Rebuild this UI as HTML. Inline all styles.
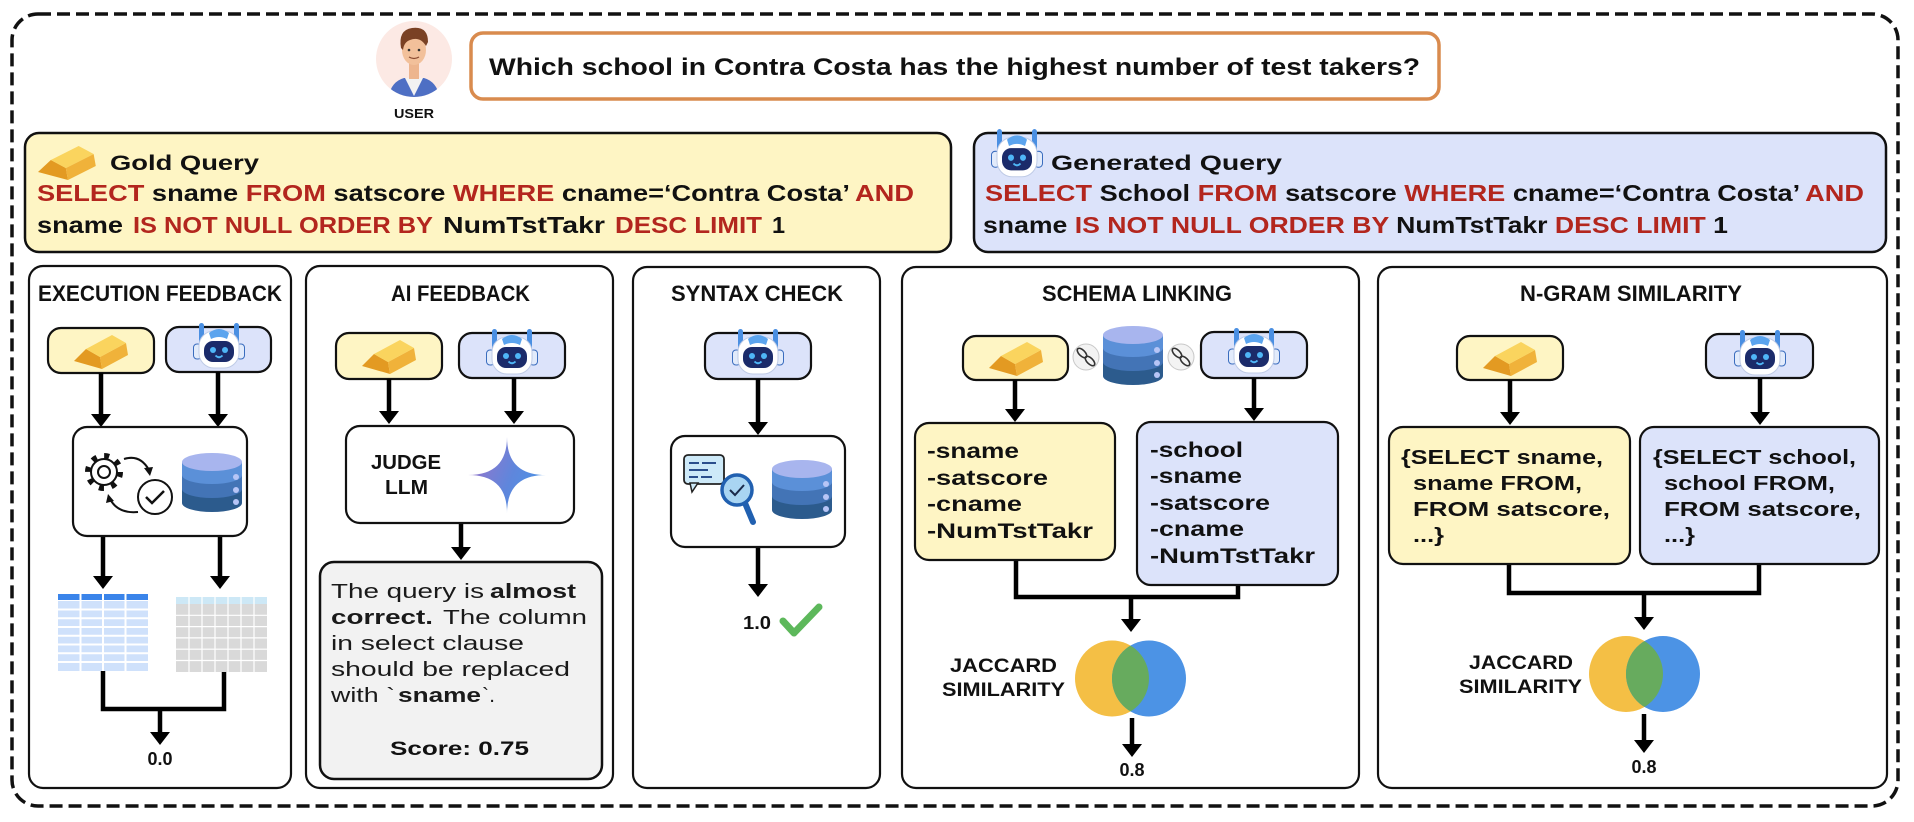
<!DOCTYPE html>
<html><head><meta charset="utf-8"><style>
html,body{margin:0;padding:0;background:#fff;}
svg{display:block;}
text{font-family:"Liberation Sans",Arial,sans-serif;}
</style></head><body>
<svg width="1914" height="822" viewBox="0 0 1914 822" xmlns="http://www.w3.org/2000/svg">
<defs>
  <g id="robot">
    <rect x="8" y="1" width="5" height="22" rx="2.5" fill="#4A8FE2"/>
    <rect x="43" y="1" width="5" height="22" rx="2.5" fill="#4A8FE2"/>
    <rect x="2.5" y="22" width="8" height="15" rx="3.5" fill="#E2EBFB" stroke="#3A6DBE" stroke-width="1"/>
    <rect x="45.5" y="22" width="8" height="15" rx="3.5" fill="#E2EBFB" stroke="#3A6DBE" stroke-width="1"/>
    <rect x="8" y="9" width="40" height="37" rx="15" fill="#ffffff" stroke="#BFCBE6" stroke-width="1"/>
    <path d="M18,11 Q28,3 38,11 L36,17 Q28,13 20,17 Z" fill="#5BA4EE"/>
    <rect x="13" y="19" width="30" height="21" rx="9" fill="#1B2B6A"/>
    <circle cx="22" cy="28" r="3" fill="#4FB6F7"/>
    <circle cx="34" cy="28" r="3" fill="#4FB6F7"/>
    <path d="M24.5,33.5 Q28,37 31.5,33.5" stroke="#4FB6F7" stroke-width="1.8" fill="none"/>
  </g>
  <g id="gold">
    <polygon points="0,28 12,16 26,24 28,36" fill="#E39A22"/>
    <polygon points="26,24 52,10 54,22 28,36" fill="#F0B23A"/>
    <polygon points="12,16 38,2 52,10 26,24" fill="#FAD45E"/>
  </g>
  <g id="db">
    <path d="M0,9 V50 A30,9 0 0 0 60,50 V9 Z" fill="#2C5B8D"/>
    <path d="M0,9 V36 A30,9 0 0 0 60,36 V9 Z" fill="#4374B6"/>
    <path d="M0,9 V22 A30,9 0 0 0 60,22 V9 Z" fill="#5B90D8"/>
    <ellipse cx="30" cy="9" rx="30" ry="9" fill="#A8B5EE"/>
    <circle cx="54" cy="24" r="3" fill="#B7C5F6"/>
    <circle cx="54" cy="37" r="3" fill="#B7C5F6"/>
    <circle cx="54" cy="49" r="3" fill="#B7C5F6"/>
  </g>
  <linearGradient id="gem" x1="0" y1="0.3" x2="1" y2="0.7">
    <stop offset="0" stop-color="#9A74C9"/>
    <stop offset="0.55" stop-color="#5F86DC"/>
    <stop offset="1" stop-color="#4A95E6"/>
  </linearGradient>
  <clipPath id="avclip"><circle cx="414" cy="59" r="38"/></clipPath>
  <clipPath id="v4"><ellipse cx="1112" cy="678.5" rx="37" ry="38"/></clipPath>
  <clipPath id="v5"><ellipse cx="1626" cy="674" rx="37" ry="38"/></clipPath>
</defs>

<!-- outer dashed -->
<rect x="12" y="14" width="1886" height="792" rx="26" fill="none" stroke="#111" stroke-width="3.5" stroke-dasharray="13 6"/>

<!-- user avatar -->
<circle cx="414" cy="59" r="38" fill="#FCE9E4"/>
<g clip-path="url(#avclip)">
  <path d="M388,100 Q390,82 404,78 L424,78 Q438,82 440,100 Z" fill="#4E6FC4"/>
  <path d="M405,78 L414,96 L423,78 Z" fill="#F2F2F2"/>
  <rect x="409" y="62" width="10" height="17" fill="#EDB58E"/>
  <ellipse cx="414" cy="50" rx="12" ry="15" fill="#F2C09A"/>
  <path d="M401,48 Q398,30 412,28 Q428,26 428,42 L426,46 Q420,36 410,40 Q404,42 403,50 Z" fill="#7A4124"/>
  <circle cx="409" cy="50" r="1.3" fill="#333"/>
  <circle cx="419" cy="50" r="1.3" fill="#333"/>
  <path d="M409,57 Q414,60 419,57" stroke="#8a4a30" stroke-width="1.2" fill="none"/>
</g>
<text x="414" y="118" font-size="13" font-weight="bold" text-anchor="middle" textLength="40" lengthAdjust="spacingAndGlyphs" fill="#111">USER</text>

<!-- question -->
<rect x="471" y="33" width="968" height="66" rx="12" fill="#fff" stroke="#D98B4E" stroke-width="3.5"/>
<text x="489" y="75" font-size="24" font-weight="bold" textLength="931" lengthAdjust="spacingAndGlyphs" fill="#111">Which school in Contra Costa has the highest number of test takers?</text>

<!-- gold query box -->
<rect x="25" y="133" width="926" height="119" rx="14" fill="#FEF5C4" stroke="#111" stroke-width="2.5"/>
<use href="#gold" transform="translate(38,144) scale(1.07,1)"/>
<text x="110" y="170" font-size="21" font-weight="bold" textLength="149" lengthAdjust="spacingAndGlyphs" fill="#111">Gold Query</text>
<text x="37" y="201" font-size="23.5" font-weight="bold" textLength="877" lengthAdjust="spacingAndGlyphs" fill="#111"><tspan fill="#B3261E">SELECT</tspan> sname <tspan fill="#B3261E">FROM</tspan> satscore <tspan fill="#B3261E">WHERE</tspan> cname=‘Contra Costa’ <tspan fill="#B3261E">AND</tspan></text>
<text x="37" y="233" font-size="23.5" font-weight="bold" textLength="86" lengthAdjust="spacingAndGlyphs" fill="#111">sname</text>
<text x="133" y="233" font-size="23.5" font-weight="bold" textLength="300" lengthAdjust="spacingAndGlyphs" fill="#B3261E">IS NOT NULL ORDER BY</text>
<text x="443" y="233" font-size="23.5" font-weight="bold" textLength="162" lengthAdjust="spacingAndGlyphs" fill="#111">NumTstTakr</text>
<text x="615" y="233" font-size="23.5" font-weight="bold" textLength="147" lengthAdjust="spacingAndGlyphs" fill="#B3261E">DESC LIMIT</text>
<text x="772" y="233" font-size="23.5" font-weight="bold" fill="#111">1</text>

<!-- generated query box -->
<rect x="974" y="133" width="912" height="119" rx="14" fill="#DCE3FA" stroke="#111" stroke-width="2.5"/>
<use href="#robot" transform="translate(989,128) scale(1,1.06)"/>
<text x="1051" y="170" font-size="21" font-weight="bold" textLength="231" lengthAdjust="spacingAndGlyphs" fill="#111">Generated Query</text>
<text x="985" y="201" font-size="23.5" font-weight="bold" textLength="879" lengthAdjust="spacingAndGlyphs" fill="#111"><tspan fill="#B3261E">SELECT</tspan> School <tspan fill="#B3261E">FROM</tspan> satscore <tspan fill="#B3261E">WHERE</tspan> cname=‘Contra Costa’ <tspan fill="#B3261E">AND</tspan></text>
<text x="983" y="233" font-size="23.5" font-weight="bold" textLength="745" lengthAdjust="spacingAndGlyphs" fill="#111">sname <tspan fill="#B3261E">IS NOT NULL ORDER BY</tspan> NumTstTakr <tspan fill="#B3261E">DESC LIMIT</tspan> 1</text>

<!-- panels -->
<g fill="#fff" stroke="#111" stroke-width="2.2">
  <rect x="29" y="266" width="262" height="522" rx="14"/>
  <rect x="306" y="266" width="307" height="522" rx="14"/>
  <rect x="633" y="267" width="247" height="521" rx="14"/>
  <rect x="902" y="267" width="457" height="521" rx="14"/>
  <rect x="1378" y="267" width="509" height="521" rx="14"/>
</g>
<g font-size="22" font-weight="bold" fill="#111">
  <text x="38" y="301" textLength="244" lengthAdjust="spacingAndGlyphs">EXECUTION FEEDBACK</text>
  <text x="391" y="301" textLength="139" lengthAdjust="spacingAndGlyphs">AI FEEDBACK</text>
  <text x="671" y="301" textLength="172" lengthAdjust="spacingAndGlyphs">SYNTAX CHECK</text>
  <text x="1042" y="301" textLength="190" lengthAdjust="spacingAndGlyphs">SCHEMA LINKING</text>
  <text x="1520" y="301" textLength="222" lengthAdjust="spacingAndGlyphs">N-GRAM SIMILARITY</text>
</g>

<!-- pills -->
<g stroke="#111" stroke-width="2.2">
  <rect x="48" y="328" width="106" height="45" rx="13" fill="#FEF5C4"/>
  <rect x="166" y="327" width="105" height="45" rx="13" fill="#DCE3FA"/>
  <rect x="336" y="333" width="106" height="46" rx="13" fill="#FEF5C4"/>
  <rect x="459" y="333" width="106" height="45" rx="13" fill="#DCE3FA"/>
  <rect x="705" y="333" width="106" height="46" rx="13" fill="#DCE3FA"/>
  <rect x="963" y="336" width="105" height="44" rx="13" fill="#FEF5C4"/>
  <rect x="1201" y="332" width="106" height="46" rx="13" fill="#DCE3FA"/>
  <rect x="1457" y="336" width="106" height="44" rx="13" fill="#FEF5C4"/>
  <rect x="1706" y="334" width="107" height="44" rx="13" fill="#DCE3FA"/>
</g>
<use href="#gold" transform="translate(74,333)"/>
<use href="#robot" transform="translate(191,322)"/>
<use href="#gold" transform="translate(362,338)"/>
<use href="#robot" transform="translate(484,328)"/>
<use href="#robot" transform="translate(730,328)"/>
<use href="#gold" transform="translate(989,340)"/>
<use href="#robot" transform="translate(1226,327)"/>
<use href="#gold" transform="translate(1483,340)"/>
<use href="#robot" transform="translate(1732,329)"/>

<!-- arrows -->
<g stroke="#000" stroke-width="4.5" fill="none">
  <line x1="101" y1="373" x2="101" y2="417"/>
  <line x1="218" y1="372" x2="218" y2="417"/>
  <line x1="103" y1="536" x2="103" y2="579"/>
  <line x1="220" y1="536" x2="220" y2="579"/>
  <line x1="160" y1="709" x2="160" y2="735"/>
  <line x1="389" y1="379" x2="389" y2="414"/>
  <line x1="514" y1="378" x2="514" y2="414"/>
  <line x1="461" y1="523" x2="461" y2="550"/>
  <line x1="758" y1="379" x2="758" y2="425"/>
  <line x1="758" y1="547" x2="758" y2="587"/>
  <line x1="1015" y1="380" x2="1015" y2="412"/>
  <line x1="1254" y1="378" x2="1254" y2="411"/>
  <line x1="1131" y1="597" x2="1131" y2="622"/>
  <line x1="1132" y1="718" x2="1132" y2="747"/>
  <line x1="1510" y1="380" x2="1510" y2="415"/>
  <line x1="1760" y1="378" x2="1760" y2="415"/>
  <line x1="1644" y1="593" x2="1644" y2="620"/>
  <line x1="1644" y1="714" x2="1644" y2="743"/>
  <path d="M103,671 V709 H224 V672"/>
  <path d="M1016,560 V597 H1238 V585"/>
  <path d="M1509,564 V593 H1759 V564"/>
</g>
<g fill="#000">
  <polygon points="91,414 111,414 101,427"/>
  <polygon points="208,414 228,414 218,427"/>
  <polygon points="93,576 113,576 103,589"/>
  <polygon points="210,576 230,576 220,589"/>
  <polygon points="150,732 170,732 160,745"/>
  <polygon points="379,411 399,411 389,424"/>
  <polygon points="504,411 524,411 514,424"/>
  <polygon points="451,547 471,547 461,560"/>
  <polygon points="748,422 768,422 758,435"/>
  <polygon points="748,584 768,584 758,597"/>
  <polygon points="1005,409 1025,409 1015,422"/>
  <polygon points="1244,408 1264,408 1254,421"/>
  <polygon points="1121,619 1141,619 1131,632"/>
  <polygon points="1122,744 1142,744 1132,757"/>
  <polygon points="1500,412 1520,412 1510,425"/>
  <polygon points="1750,412 1770,412 1760,425"/>
  <polygon points="1634,617 1654,617 1644,630"/>
  <polygon points="1634,740 1654,740 1644,753"/>
</g>

<!-- EXEC process box -->
<rect x="73" y="427" width="174" height="109" rx="14" fill="#fff" stroke="#111" stroke-width="2.2"/>
<circle cx="104" cy="472" r="16" fill="none" stroke="#111" stroke-width="6" stroke-dasharray="5 7.57"/>
<circle cx="104" cy="472" r="13" fill="#fff" stroke="#111" stroke-width="2"/>
<circle cx="104" cy="472" r="6" fill="none" stroke="#111" stroke-width="2"/>
<path d="M124,459 Q140,454 149,470" fill="none" stroke="#111" stroke-width="2"/>
<polygon points="144,468 153,467 150,476" fill="#111"/>
<path d="M138,512 Q118,514 110,499" fill="none" stroke="#111" stroke-width="2"/>
<polygon points="106,503 108,494 114,501" fill="#111"/>
<circle cx="155" cy="497" r="17" fill="#fff" stroke="#111" stroke-width="2"/>
<path d="M146,497 L152,503 L164,491" fill="none" stroke="#111" stroke-width="2.5"/>
<use href="#db" transform="translate(182,453)"/>

<!-- tables -->
<rect x="58" y="594" width="90" height="6" fill="#3A84EA"/>
<rect x="58" y="601" width="90" height="70" fill="#CFE1FB"/>
<g stroke="#fff" stroke-width="2">
  <line x1="80.5" y1="594" x2="80.5" y2="671"/>
  <line x1="103" y1="594" x2="103" y2="671"/>
  <line x1="125.5" y1="594" x2="125.5" y2="671"/>
  <line x1="58" y1="609.5" x2="148" y2="609.5"/>
  <line x1="58" y1="618.2" x2="148" y2="618.2"/>
  <line x1="58" y1="627" x2="148" y2="627"/>
  <line x1="58" y1="635.7" x2="148" y2="635.7"/>
  <line x1="58" y1="644.5" x2="148" y2="644.5"/>
  <line x1="58" y1="653.2" x2="148" y2="653.2"/>
  <line x1="58" y1="662" x2="148" y2="662"/>
</g>
<rect x="176" y="597" width="91" height="7" fill="#CDE8F6"/>
<rect x="176" y="604" width="91" height="68" fill="#D9D9D9"/>
<g stroke="#fff" stroke-width="1.2">
  <line x1="189" y1="597" x2="189" y2="672"/><line x1="202" y1="597" x2="202" y2="672"/>
  <line x1="215" y1="597" x2="215" y2="672"/><line x1="228" y1="597" x2="228" y2="672"/>
  <line x1="241" y1="597" x2="241" y2="672"/><line x1="254" y1="597" x2="254" y2="672"/>
  <line x1="176" y1="615.3" x2="267" y2="615.3"/><line x1="176" y1="626.6" x2="267" y2="626.6"/>
  <line x1="176" y1="637.9" x2="267" y2="637.9"/><line x1="176" y1="649.2" x2="267" y2="649.2"/>
  <line x1="176" y1="660.5" x2="267" y2="660.5"/>
</g>
<text x="160" y="765" font-size="18" font-weight="bold" text-anchor="middle" fill="#111">0.0</text>

<!-- AI FEEDBACK -->
<rect x="346" y="426" width="228" height="97" rx="14" fill="#fff" stroke="#111" stroke-width="2.2"/>
<text x="371" y="469" font-size="20" font-weight="bold" textLength="70" lengthAdjust="spacingAndGlyphs" fill="#111">JUDGE</text>
<text x="385" y="494" font-size="20" font-weight="bold" textLength="43" lengthAdjust="spacingAndGlyphs" fill="#111">LLM</text>
<path d="M507,437 Q507,475 546,475 Q507,475 507,513 Q507,475 468,475 Q507,475 507,437 Z" fill="url(#gem)"/>
<rect x="320" y="562" width="282" height="217" rx="14" fill="#F2F2F2" stroke="#111" stroke-width="2.5"/>
<g font-size="20.5" fill="#1a1a1a">
  <text x="331" y="598" textLength="153" lengthAdjust="spacingAndGlyphs">The query is</text>
  <text x="490" y="598" font-weight="bold" textLength="86" lengthAdjust="spacingAndGlyphs">almost</text>
  <text x="331" y="624" font-weight="bold" textLength="102" lengthAdjust="spacingAndGlyphs">correct.</text>
  <text x="443" y="624" textLength="144" lengthAdjust="spacingAndGlyphs">The column</text>
  <text x="331" y="650" textLength="193" lengthAdjust="spacingAndGlyphs">in select clause</text>
  <text x="331" y="676" textLength="239" lengthAdjust="spacingAndGlyphs">should be replaced</text>
  <text x="331" y="702" textLength="64" lengthAdjust="spacingAndGlyphs">with `</text>
  <text x="398" y="702" font-weight="bold" textLength="83" lengthAdjust="spacingAndGlyphs">sname</text>
  <text x="482" y="702" textLength="13" lengthAdjust="spacingAndGlyphs">`.</text>
</g>
<text x="390" y="755" font-size="19" font-weight="bold" textLength="139" lengthAdjust="spacingAndGlyphs" fill="#111">Score: 0.75</text>

<!-- SYNTAX CHECK -->
<rect x="671" y="436" width="174" height="111" rx="14" fill="#fff" stroke="#111" stroke-width="2.2"/>
<rect x="684" y="455" width="40" height="29" rx="4" fill="#CDE9F8" stroke="#222" stroke-width="1.8"/>
<polygon points="690,483 698,483 692,492" fill="#CDE9F8" stroke="#222" stroke-width="1.5"/>
<g stroke="#2B4E8C" stroke-width="2">
  <line x1="689" y1="463" x2="699" y2="463"/><line x1="702" y1="463" x2="716" y2="463"/>
  <line x1="689" y1="470" x2="708" y2="470"/>
  <line x1="689" y1="477" x2="698" y2="477"/><line x1="701" y1="477" x2="712" y2="477"/>
</g>
<line x1="745" y1="503" x2="753" y2="522" stroke="#2160B0" stroke-width="6" stroke-linecap="round"/>
<circle cx="737" cy="490" r="15" fill="#A9D5F2" stroke="#2160B0" stroke-width="3.5"/>
<path d="M730,490 L735,495 L744,485" fill="none" stroke="#1a2a4a" stroke-width="2"/>
<use href="#db" transform="translate(772,460)"/>
<text x="743" y="629" font-size="18" font-weight="bold" textLength="28" lengthAdjust="spacingAndGlyphs" fill="#111">1.0</text>
<path d="M783,621 L794,633 L819,607" fill="none" stroke="#5DB85B" stroke-width="7" stroke-linecap="round" stroke-linejoin="round"/>

<!-- SCHEMA LINKING -->
<use href="#db" transform="translate(1103,326)"/>
<g>
  <circle cx="1086" cy="357" r="13" fill="#F3F3F3" stroke="#C8C8C8" stroke-width="1"/>
  <circle cx="1181" cy="357" r="13" fill="#F3F3F3" stroke="#C8C8C8" stroke-width="1"/>
  <g fill="none" stroke="#333" stroke-width="1.6">
    <ellipse cx="1082" cy="353" rx="6" ry="3" transform="rotate(45 1082 353)"/>
    <ellipse cx="1090" cy="361" rx="6" ry="3" transform="rotate(45 1090 361)"/>
    <ellipse cx="1177" cy="353" rx="6" ry="3" transform="rotate(45 1177 353)"/>
    <ellipse cx="1185" cy="361" rx="6" ry="3" transform="rotate(45 1185 361)"/>
  </g>
</g>
<rect x="915" y="423" width="200" height="137" rx="14" fill="#FEF5C4" stroke="#111" stroke-width="2.2"/>
<rect x="1137" y="422" width="201" height="163" rx="14" fill="#DCE3FA" stroke="#111" stroke-width="2.2"/>
<g font-size="21" font-weight="bold" fill="#111">
  <text x="927" y="458" textLength="92" lengthAdjust="spacingAndGlyphs">-sname</text>
  <text x="927" y="485" textLength="121" lengthAdjust="spacingAndGlyphs">-satscore</text>
  <text x="927" y="511" textLength="95" lengthAdjust="spacingAndGlyphs">-cname</text>
  <text x="927" y="538" textLength="166" lengthAdjust="spacingAndGlyphs">-NumTstTakr</text>
  <text x="1150" y="457" textLength="93" lengthAdjust="spacingAndGlyphs">-school</text>
  <text x="1150" y="483" textLength="92" lengthAdjust="spacingAndGlyphs">-sname</text>
  <text x="1150" y="510" textLength="120" lengthAdjust="spacingAndGlyphs">-satscore</text>
  <text x="1150" y="536" textLength="94" lengthAdjust="spacingAndGlyphs">-cname</text>
  <text x="1150" y="563" textLength="165" lengthAdjust="spacingAndGlyphs">-NumTstTakr</text>
</g>
<ellipse cx="1112" cy="678.5" rx="37" ry="38" fill="#F4BF45"/>
<ellipse cx="1149" cy="678.5" rx="37" ry="38" fill="#4C93E5"/>
<ellipse cx="1149" cy="678.5" rx="37" ry="38" fill="#67AB5E" clip-path="url(#v4)"/>
<g font-size="19" font-weight="bold" fill="#111">
  <text x="950" y="672" textLength="107" lengthAdjust="spacingAndGlyphs">JACCARD</text>
  <text x="942" y="696" textLength="123" lengthAdjust="spacingAndGlyphs">SIMILARITY</text>
</g>
<text x="1132" y="776" font-size="18" font-weight="bold" text-anchor="middle" fill="#111">0.8</text>

<!-- N-GRAM -->
<rect x="1389" y="427" width="241" height="137" rx="14" fill="#FEF5C4" stroke="#111" stroke-width="2.2"/>
<rect x="1640" y="427" width="239" height="137" rx="14" fill="#DCE3FA" stroke="#111" stroke-width="2.2"/>
<g font-size="20" font-weight="bold" fill="#111">
  <text x="1401" y="464" textLength="202" lengthAdjust="spacingAndGlyphs">{SELECT sname,</text>
  <text x="1413" y="490" textLength="169" lengthAdjust="spacingAndGlyphs">sname FROM,</text>
  <text x="1413" y="516" textLength="197" lengthAdjust="spacingAndGlyphs">FROM satscore,</text>
  <text x="1413" y="542" textLength="31" lengthAdjust="spacingAndGlyphs">...}</text>
  <text x="1653" y="464" textLength="203" lengthAdjust="spacingAndGlyphs">{SELECT school,</text>
  <text x="1664" y="490" textLength="171" lengthAdjust="spacingAndGlyphs">school FROM,</text>
  <text x="1664" y="516" textLength="197" lengthAdjust="spacingAndGlyphs">FROM satscore,</text>
  <text x="1664" y="542" textLength="31" lengthAdjust="spacingAndGlyphs">...}</text>
</g>
<ellipse cx="1626" cy="674" rx="37" ry="38" fill="#F4BF45"/>
<ellipse cx="1663" cy="674" rx="37" ry="38" fill="#4C93E5"/>
<ellipse cx="1663" cy="674" rx="37" ry="38" fill="#67AB5E" clip-path="url(#v5)"/>
<g font-size="19" font-weight="bold" fill="#111">
  <text x="1469" y="669" textLength="104" lengthAdjust="spacingAndGlyphs">JACCARD</text>
  <text x="1459" y="693" textLength="123" lengthAdjust="spacingAndGlyphs">SIMILARITY</text>
</g>
<text x="1644" y="773" font-size="18" font-weight="bold" text-anchor="middle" fill="#111">0.8</text>
</svg>
</body></html>
